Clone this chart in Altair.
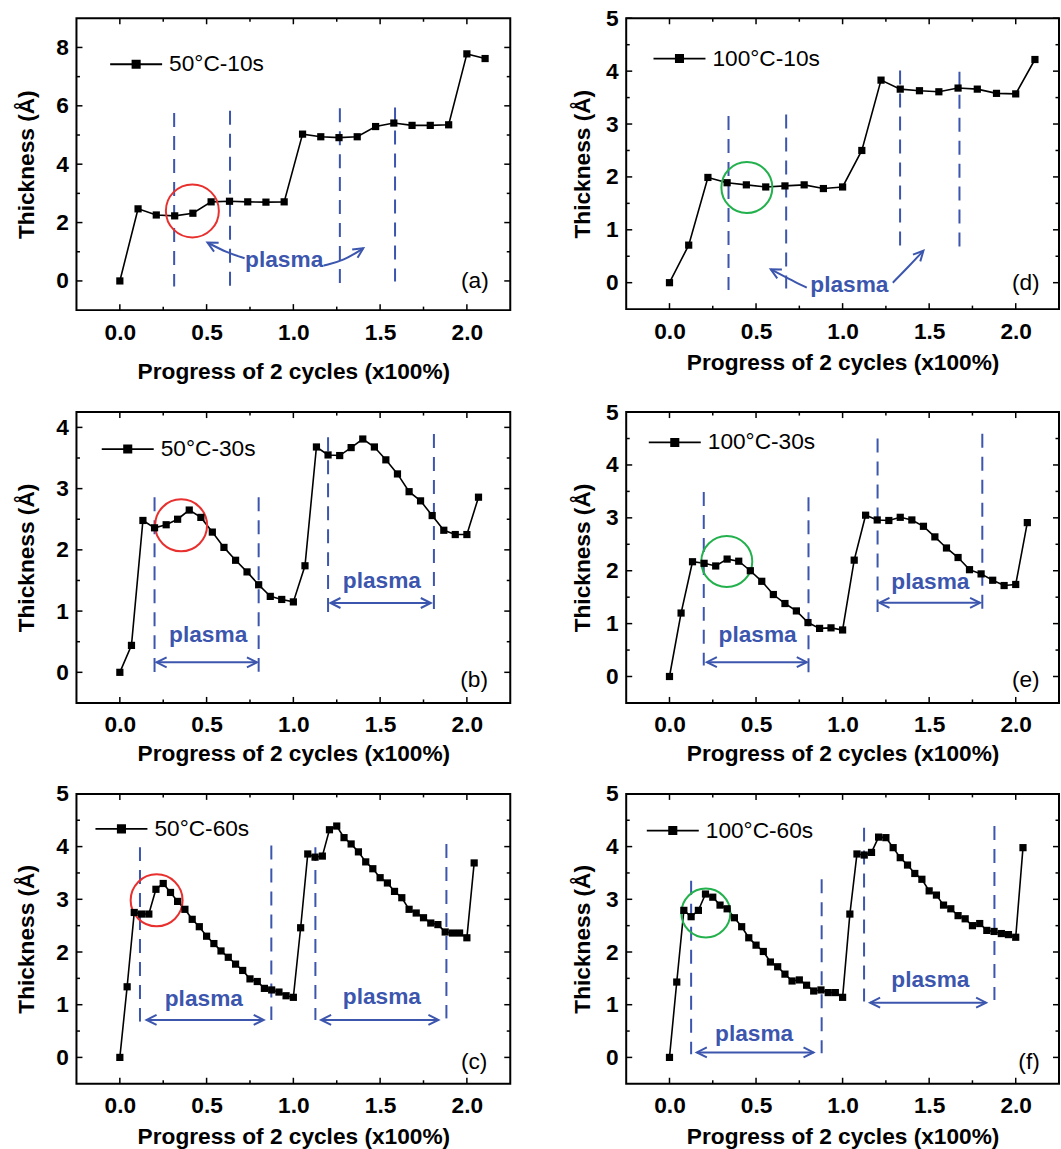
import math
import altair as alt
import pandas as pd

FONT = "Liberation Sans"
BLUE = "#3c56ae"
RED = "#e8312f"
GREEN = "#23b14d"
FS = 22.7

# ---------------- data ----------------
a_name = "50°C-10s"
a_x = [0.0, 0.105, 0.21, 0.316, 0.421, 0.526, 0.632, 0.737, 0.842, 0.947, 1.053,
       1.158, 1.263, 1.368, 1.474, 1.579, 1.684, 1.789, 1.895, 2.0, 2.105]
a_y = [0.0, 2.47, 2.26, 2.23, 2.32, 2.71, 2.73, 2.71, 2.70, 2.71, 5.03,
       4.94, 4.91, 4.94, 5.29, 5.41, 5.33, 5.33, 5.35, 7.78, 7.62]

d_name = "100°C-10s"
d_x = [0.0, 0.111, 0.222, 0.333, 0.444, 0.556, 0.667, 0.778, 0.889, 1.0,
       1.111, 1.222, 1.333, 1.444, 1.556, 1.667, 1.778, 1.889, 2.0, 2.111]
d_y = [0.0, 0.71, 1.99, 1.89, 1.85, 1.81, 1.83, 1.85, 1.78, 1.81,
       2.50, 3.83, 3.66, 3.63, 3.61, 3.68, 3.66, 3.58, 3.57, 4.22]

b_name = "50°C-30s"
b_x = [0.0, 0.067, 0.133, 0.2, 0.267, 0.333, 0.4, 0.467, 0.533, 0.6, 0.667,
       0.733, 0.8, 0.867, 0.933, 1.0, 1.067, 1.133, 1.2, 1.267, 1.333, 1.4,
       1.467, 1.533, 1.6, 1.667, 1.733, 1.8, 1.867, 1.933, 2.0, 2.067]
b_y = [0.0, 0.44, 2.48, 2.36, 2.41, 2.50, 2.65, 2.53, 2.29, 2.04, 1.83,
       1.64, 1.43, 1.24, 1.19, 1.15, 1.74, 3.68, 3.55, 3.54, 3.67, 3.81,
       3.68, 3.47, 3.24, 2.95, 2.80, 2.56, 2.32, 2.25, 2.25, 2.86]

e_name = "100°C-30s"
e_x = b_x
e_y = [0.0, 1.20, 2.17, 2.14, 2.09, 2.22, 2.18, 2.00, 1.80, 1.55, 1.38,
       1.24, 1.02, 0.91, 0.92, 0.88, 2.20, 3.05, 2.96, 2.95, 3.01, 2.96,
       2.84, 2.64, 2.43, 2.25, 2.02, 1.94, 1.82, 1.72, 1.74, 2.91]

c_name = "50°C-60s"
c_x = [0.0, 0.042, 0.083, 0.125, 0.167, 0.208, 0.25, 0.292, 0.333, 0.375,
       0.417, 0.458, 0.5, 0.542, 0.583, 0.625, 0.667, 0.708, 0.75, 0.792,
       0.833, 0.875, 0.917, 0.958, 1.0, 1.042, 1.083, 1.125, 1.167, 1.208,
       1.25, 1.292, 1.333, 1.375, 1.417, 1.458, 1.5, 1.542, 1.583, 1.625,
       1.667, 1.708, 1.75, 1.792, 1.833, 1.875, 1.917, 1.958, 2.0, 2.042]
c_y = [0.0, 1.34, 2.75, 2.72, 2.72, 3.19, 3.30, 3.13, 2.96, 2.81,
       2.62, 2.48, 2.30, 2.16, 2.02, 1.90, 1.77, 1.65, 1.49, 1.44,
       1.31, 1.28, 1.24, 1.17, 1.14, 2.46, 3.86, 3.80, 3.82, 4.32,
       4.39, 4.17, 4.05, 3.90, 3.71, 3.58, 3.41, 3.31, 3.15, 3.03,
       2.81, 2.74, 2.65, 2.55, 2.52, 2.38, 2.36, 2.36, 2.27, 3.69]

f_name = "100°C-60s"
f_x = c_x
f_y = [0.0, 1.43, 2.79, 2.67, 2.79, 3.10, 3.04, 2.89, 2.82, 2.65,
       2.48, 2.27, 2.13, 2.01, 1.81, 1.72, 1.58, 1.45, 1.47, 1.37,
       1.26, 1.28, 1.23, 1.23, 1.14, 2.72, 3.86, 3.84, 3.89, 4.18,
       4.17, 3.98, 3.79, 3.65, 3.49, 3.38, 3.16, 3.08, 2.89, 2.82,
       2.69, 2.63, 2.50, 2.54, 2.41, 2.39, 2.35, 2.33, 2.28, 3.98]

# dashed plasma boundaries: (x, y_top, y_bottom)
a_dash = [(0.313, 5.75, -0.19), (0.635, 5.83, -0.17), (1.268, 5.92, -0.08), (1.586, 5.94, -0.02)]
d_dash = [(0.341, 3.15, -0.14), (0.674, 3.18, -0.11), (1.332, 4.01, 0.68), (1.675, 3.99, 0.68)]
b_dash = [(0.2, 2.86, 0.0), (0.8, 2.86, 0.01), (1.2, 3.84, 0.97), (1.81, 3.89, 1.03)]
e_dash = [(0.198, 3.49, 0.21), (0.803, 3.39, 0.08), (1.202, 4.50, 1.22), (1.807, 4.59, 1.28)]
c_dash = [(0.116, 3.99, 0.68), (0.873, 4.02, 0.71), (1.127, 3.99, 0.71), (1.882, 4.05, 0.74)]
f_dash = [(0.125, 3.35, 0.06), (0.879, 3.38, 0.08), (1.124, 4.36, 1.06), (1.877, 4.39, 1.09)]

# highlighted region circles: (x, y)
a_circ = (0.418, 2.40)
d_circ = (0.447, 1.80)
b_circ = (0.353, 2.40)
e_circ = (0.331, 2.175)
c_circ = (0.212, 2.98)
f_circ = (0.21, 2.74)

# "plasma" labels: (x, baseline y)
a_txt = [(0.947, 0.49)]
d_txt = [(1.039, -0.17)]
b_txt = [(0.509, 0.50), (1.51, 1.37)]
e_txt = [(0.509, 0.65), (1.507, 1.66)]
c_txt = [(0.484, 0.98), (1.51, 1.01)]
f_txt = [(0.489, 0.32), (1.507, 1.34)]

# arrows: list of polylines, heads "end" or "both"
a_arr = [([(0.719, 0.777), (0.617, 0.971), (0.505, 1.314)], "end"),
         ([(1.175, 0.526), (1.291, 0.697), (1.403, 1.12)], "end")]
d_arr = [([(0.793, -0.095), (0.687, 0.076), (0.585, 0.252)], "end"),
         ([(1.29, 0.0), (1.38, 0.30), (1.467, 0.605)], "end")]
b_arr = [([(0.212, 0.163), (0.79, 0.163)], "both"), ([(1.214, 1.132), (1.792, 1.132)], "both")]
e_arr = [([(0.216, 0.271), (0.793, 0.271)], "both"), ([(1.213, 1.393), (1.794, 1.393)], "both")]
c_arr = [([(0.154, 0.712), (0.829, 0.712)], "both"), ([(1.16, 0.712), (1.836, 0.712)], "both")]
f_arr = [([(0.158, 0.094), (0.832, 0.094)], "both"), ([(1.159, 1.038), (1.829, 1.038)], "both")]

# panel tags: (x, y)
a_tag = (2.046, 0.0)
d_tag = (2.058, 0.0)
b_tag = (2.042, -0.12)
e_tag = (2.058, -0.06)
c_tag = (2.042, -0.095)
f_tag = (2.077, -0.094)

X_MAJOR = [0, 0.5, 1.0, 1.5, 2.0]
X_MINOR = [0.25, 0.75, 1.25, 1.75]
XDOM = [-0.25, 2.25]

LEG_PATH = "M-1,0L1,0M-0.14,-0.14L0.14,-0.14L0.14,0.14L-0.14,0.14Z"
HEAD_PATH = "M-1,-0.5L0,0L-1,0.5"
MAJ_LEN = 6
MIN_LEN = 3.5

panels = [
    dict(tag="(a)", name=a_name, x=a_x, y=a_y, ydom=[-1, 9], ymaj=[0, 2, 4, 6, 8], ymin=[1, 3, 5, 7],
         w=434, h=292, dash=a_dash, circ=a_circ, ccol=RED, cd=53, txt=a_txt, arr=a_arr, tagp=a_tag,
         leg=(32.7, 19), xtp=17, ytp=17),
    dict(tag="(d)", name=d_name, x=d_x, y=d_y, ydom=[-0.5, 5], ymaj=[0, 1, 2, 3, 4, 5],
         ymin=[0.5, 1.5, 2.5, 3.5, 4.5],
         w=433, h=291, dash=d_dash, circ=d_circ, ccol=GREEN, cd=51, txt=d_txt, arr=d_arr, tagp=d_tag,
         leg=(26.3, 13.3), xtp=9, ytp=11),
    dict(tag="(b)", name=b_name, x=b_x, y=b_y, ydom=[-0.5, 4.25], ymaj=[0, 1, 2, 3, 4],
         ymin=[0.5, 1.5, 2.5, 3.5],
         w=434, h=291, dash=b_dash, circ=b_circ, ccol=RED, cd=52, txt=b_txt, arr=b_arr, tagp=b_tag,
         leg=(24.3, 10), xtp=6, ytp=17),
    dict(tag="(e)", name=e_name, x=e_x, y=e_y, ydom=[-0.5, 5], ymaj=[0, 1, 2, 3, 4, 5],
         ymin=[0.5, 1.5, 2.5, 3.5, 4.5],
         w=433, h=291, dash=e_dash, circ=e_circ, ccol=GREEN, cd=51, txt=e_txt, arr=e_arr, tagp=e_tag,
         leg=(21.6, 3.4), xtp=6, ytp=11),
    dict(tag="(c)", name=c_name, x=c_x, y=c_y, ydom=[-0.5, 5], ymaj=[0, 1, 2, 3, 4, 5],
         ymin=[0.5, 1.5, 2.5, 3.5, 4.5],
         w=434, h=290, dash=c_dash, circ=c_circ, ccol=RED, cd=52, txt=c_txt, arr=c_arr, tagp=c_tag,
         leg=(18, 8), xtp=8, ytp=17),
    dict(tag="(f)", name=f_name, x=f_x, y=f_y, ydom=[-0.5, 5], ymaj=[0, 1, 2, 3, 4, 5],
         ymin=[0.5, 1.5, 2.5, 3.5, 4.5],
         w=433, h=290, dash=f_dash, circ=f_circ, ccol=GREEN, cd=49, txt=f_txt, arr=f_arr, tagp=f_tag,
         leg=(19.6, 9.7), xtp=8, ytp=11),
]


def make_panel(p):
    W, H, ydom = p["w"], p["h"], p["ydom"]
    xs = alt.Scale(domain=XDOM, nice=False, zero=False)
    ys = alt.Scale(domain=ydom, nice=False, zero=False)

    def X(field, axis=None):
        return alt.X(field, type="quantitative", scale=xs, axis=axis)

    def Y(field, axis=None):
        return alt.Y(field, type="quantitative", scale=ys, axis=axis)

    df = pd.DataFrame({"x": p["x"], "y": p["y"], "series": p["name"]})

    xlab = alt.Axis(orient="bottom", values=X_MAJOR, format=".1f", ticks=False, tickSize=0,
                    domain=False, grid=False, labelFont=FONT, labelFontWeight="bold",
                    labelFontSize=FS, labelColor="black", labelPadding=11,
                    title="Progress of 2 cycles (x100%)", titleFont=FONT, titleFontWeight="bold",
                    titleFontSize=FS, titleColor="black", titlePadding=p["xtp"])
    ylab = alt.Axis(orient="left", values=p["ymaj"], format="d", ticks=False, tickSize=0,
                    domain=False, grid=False, labelFont=FONT, labelFontWeight="bold",
                    labelFontSize=FS, labelColor="black", labelPadding=8,
                    title="Thickness (Å)", titleFont=FONT, titleFontWeight="bold",
                    titleFontSize=FS, titleColor="black", titlePadding=p["ytp"])

    legend = alt.Legend(orient="none", legendX=p["leg"][0], legendY=p["leg"][1], title=None,
                        symbolType=LEG_PATH, symbolSize=2704, symbolStrokeWidth=1.8,
                        symbolFillColor="black", symbolStrokeColor="black",
                        labelFont=FONT, labelFontSize=FS, labelColor="black", labelOffset=6,
                        labelLimit=400, padding=0, offset=0)

    line = alt.Chart(df).mark_line(strokeWidth=1.6).encode(
        x=X("x", xlab), y=Y("y", ylab),
        color=alt.Color("series:N", scale=alt.Scale(range=["black"]), legend=legend))

    pts = alt.Chart(df).mark_point(shape="square", filled=True, size=52, color="black",
                                   opacity=1).encode(x=X("x"), y=Y("y"))

    # inward ticks on all four sides (positions through the scales)
    ticks = []
    for vals, ln in ((X_MAJOR, MAJ_LEN), (X_MINOR, MIN_LEN)):
        tdf = pd.DataFrame({"v": vals})
        ticks.append(alt.Chart(tdf).mark_rule(color="black", strokeWidth=1.5).encode(
            x=X("v"), y=alt.value(H), y2=alt.value(H - ln)))
        ticks.append(alt.Chart(tdf).mark_rule(color="black", strokeWidth=1.5).encode(
            x=X("v"), y=alt.value(0), y2=alt.value(ln)))
    for vals, ln in ((p["ymaj"], MAJ_LEN), (p["ymin"], MIN_LEN)):
        tdf = pd.DataFrame({"v": vals})
        ticks.append(alt.Chart(tdf).mark_rule(color="black", strokeWidth=1.5).encode(
            y=Y("v"), x=alt.value(0), x2=alt.value(ln)))
        ticks.append(alt.Chart(tdf).mark_rule(color="black", strokeWidth=1.5).encode(
            y=Y("v"), x=alt.value(W), x2=alt.value(W - ln)))

    ddf = pd.DataFrame({"x": [d[0] for d in p["dash"]], "y0": [d[1] for d in p["dash"]],
                        "y1": [d[2] for d in p["dash"]]})
    dashes = alt.Chart(ddf).mark_rule(color=BLUE, strokeWidth=2, strokeDash=[14, 9]).encode(
        x=X("x"), y=Y("y0"), y2="y1")

    cdf = pd.DataFrame({"x": [p["circ"][0]], "y": [p["circ"][1]]})
    circ = alt.Chart(cdf).mark_point(shape="circle", filled=False, size=p["cd"] ** 2,
                                     strokeWidth=2, color=p["ccol"], opacity=1).encode(
        x=X("x"), y=Y("y"))

    tdf = pd.DataFrame({"x": [t[0] for t in p["txt"]], "y": [t[1] for t in p["txt"]],
                        "t": ["plasma"] * len(p["txt"])})
    txt = alt.Chart(tdf).mark_text(font=FONT, fontSize=FS, fontWeight="bold", color=BLUE,
                                   align="center", baseline="alphabetic").encode(
        x=X("x"), y=Y("y"), text="t:N")

    # arrows
    rows, heads = [], []
    sx = W / (XDOM[1] - XDOM[0])
    sy = H / (ydom[1] - ydom[0])

    def ang(p0, p1):
        dx = (p1[0] - p0[0]) * sx
        dy = -(p1[1] - p0[1]) * sy
        return math.degrees(math.atan2(dy, dx)) % 360

    for i, (path, kind) in enumerate(p["arr"]):
        for k, (xx, yy) in enumerate(path):
            rows.append({"aid": i, "k": k, "x": xx, "y": yy})
        heads.append({"x": path[-1][0], "y": path[-1][1], "ang": ang(path[-2], path[-1])})
        if kind == "both":
            heads.append({"x": path[0][0], "y": path[0][1], "ang": ang(path[1], path[0])})
    adf = pd.DataFrame(rows)
    hdf = pd.DataFrame(heads)
    arr = alt.Chart(adf).mark_line(color=BLUE, strokeWidth=2, interpolate="basis").encode(
        x=X("x"), y=Y("y"), detail="aid:N", order="k:Q")
    hd = alt.Chart(hdf).mark_point(shape=HEAD_PATH, size=400, filled=False, strokeWidth=2,
                                   color=BLUE, opacity=1).encode(
        x=X("x"), y=Y("y"), angle=alt.Angle("ang:Q", scale=None))

    gdf = pd.DataFrame({"x": [p["tagp"][0]], "y": [p["tagp"][1]], "t": [p["tag"]]})
    tag = alt.Chart(gdf).mark_text(font=FONT, fontSize=FS, color="black", align="center",
                                   baseline="middle").encode(
        x=X("x"), y=Y("y"), text="t:N")

    return alt.layer(line, *ticks, dashes, circ, arr, hd, txt, tag, pts).resolve_axis(
        x="independent", y="independent").properties(width=W, height=H)


charts = [make_panel(p) for p in panels]

chart = alt.concat(*charts, columns=2, spacing={"row": 15, "column": 58}).resolve_scale(
    color="independent").resolve_legend(color="independent").configure_view(
    stroke="black", strokeWidth=2).properties(
    padding={"left": 14.5, "top": 6, "right": 0, "bottom": 0})

chart.save("out.html", embed_options={"renderer": "svg", "actions": False})
